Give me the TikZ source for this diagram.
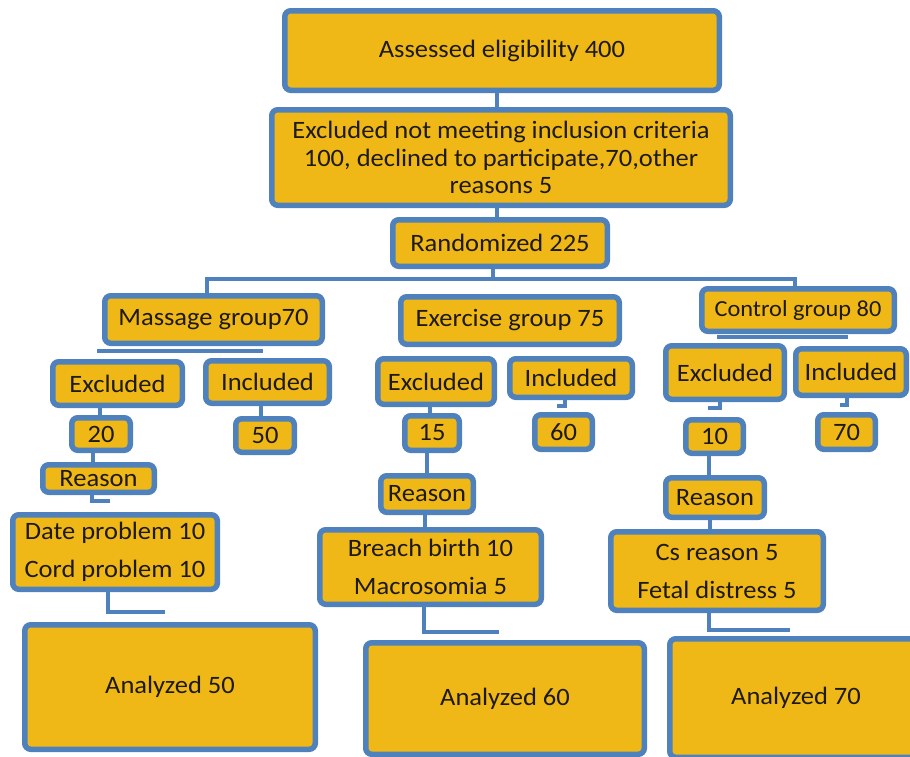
\documentclass[tikz,border=0pt]{standalone}
\usepackage{fontspec}
\setmainfont{Carlito}[FakeStretch=1.06]
\definecolor{bxblue}{HTML}{4F81BD}
\definecolor{bxfill}{HTML}{EFB817}
\definecolor{txtcol}{HTML}{1E1A10}
\tikzset{
  box/.style={draw=bxblue, fill=bxfill, line width=5.5pt, rounded corners=6pt,
    inner sep=0pt, align=center, text=txtcol, font=\fontsize{25}{27.5}\selectfont},
  conn/.style={draw=bxblue, line width=4pt},
}
\newcommand\mybox[7][]{\node[box,#1, minimum width={(#5-#3-5.5)*1pt}, minimum height={(#6-#4-5.5)*1pt}] (#2) at ({(#3+#5)/2},{(#4+#6)/2}) {#7};}
\begin{document}
\begin{tikzpicture}[x=1pt,y=-1pt]
\useasboundingbox (0,0) rectangle (910,756);
\fill[white] (0,0) rectangle (910,756);
% top
\mybox{A}{282}{8}{722}{93}{Assessed eligibility 400}
\mybox{B}{269}{107}{733}{208}{Excluded not meeting inclusion criteria\\100, declined to participate,70,other\\reasons 5}
\mybox{R}{390}{217}{610}{269}{Randomized 225}
% groups
\mybox{M}{102}{293}{325}{346}{Massage group70}
\mybox{E}{398}{294}{622}{347}{Exercise group 75}
\mybox[font=\fontsize{23}{25}\selectfont]{C}{699}{286}{897}{334}{Control group 80}
% massage
\mybox{ME}{50}{359}{185}{408}{Excluded}
\mybox{MI}{203}{358}{332}{406}{Included}
\mybox{MX}{69}{415}{133}{453}{20}
\mybox{MY}{233}{416}{297}{455}{50}
\mybox{MR}{40}{462}{157}{495}{Reason}
\mybox{MD}{10}{512}{220}{592}{Date problem 10\\[10.5pt]Cord problem 10}
\mybox{MA}{22}{622}{318}{752}{Analyzed 50}
% exercise
\mybox{EE}{375}{356}{497}{407}{Excluded}
\mybox{EI}{507}{356}{635}{400}{Included}
\mybox{EX}{402}{413}{462}{453}{15}
\mybox{EY}{532}{412}{595}{452}{60}
\mybox{ER}{378}{473}{476}{515}{Reason}
\mybox{ED}{317}{527}{544}{607}{Breach birth 10\\[10.5pt]Macrosomia 5}
\mybox{EA}{363}{640}{647}{757}{Analyzed 60}
% control
\mybox{CE}{663}{343}{787}{402}{Excluded}
\mybox{CI}{793}{346}{909}{398}{Included}
\mybox{CX}{683}{417}{746}{456}{10}
\mybox{CY}{815}{412}{878}{452}{70}
\mybox{CR}{663}{475}{767}{520}{Reason}
\mybox{CD}{608}{529}{826}{613}{Cs reason 5\\[10.5pt]Fetal distress 5}
\mybox{CA}{667}{636}{925}{760}{Analyzed 70}
% connectors
\coordinate (split) at (493,279);
\coordinate (mbarL) at (97,351);
\coordinate (mbarR) at (263,351);
\coordinate (cbarL) at (717,337);
\coordinate (cbarR) at (848,337);
\coordinate (mrend) at (110,501);
\coordinate (mdend) at (165,612);
\coordinate (edend) at (499,632);
\coordinate (cdend) at (790,630);
\coordinate (ceend) at (708,408);
\coordinate (ciend) at (840,405);
\coordinate (eiend) at (557,406);
\draw[conn] (A.south -| 497,0) -- (B.north -| 497,0);
\draw[conn] (B.south -| 497,0) -- (R.north -| 497,0);
\draw[conn] (R.south -| split) -- (split);
\draw[conn] (M.north -| 207,0) |- (split) -| (C.north -| 795,0);
\draw[conn] (mbarL) -- (mbarR);
\draw[conn] (cbarL) -- (cbarR);
\draw[conn] (ME.south -| 100,0) -- (MX.north -| 100,0);
\draw[conn] (MI.south -| 261,0) -- (MY.north -| 261,0);
\draw[conn] (MX.south -| 93,0) -- (MR.north -| 93,0);
\draw[conn] (MR.south -| 92,0) |- (mrend);
\draw[conn] (MD.south -| 108,0) |- (mdend);
\draw[conn] (EE.south -| 430,0) -- (EX.north -| 430,0);
\draw[conn] (EI.south -| 565,0) |- (eiend);
\draw[conn] (EX.south -| 427,0) -- (ER.north -| 427,0);
\draw[conn] (ER.south -| 425,0) -- (ED.north -| 425,0);
\draw[conn] (ED.south -| 424,0) |- (edend);
\draw[conn] (CE.south -| 720,0) |- (ceend);
\draw[conn] (CI.south -| 847,0) |- (ciend);
\draw[conn] (CX.south -| 709,0) -- (CR.north -| 709,0);
\draw[conn] (CR.south -| 710,0) -- (CD.north -| 710,0);
\draw[conn] (CD.south -| 709,0) |- (cdend);
\end{tikzpicture}
\end{document}
